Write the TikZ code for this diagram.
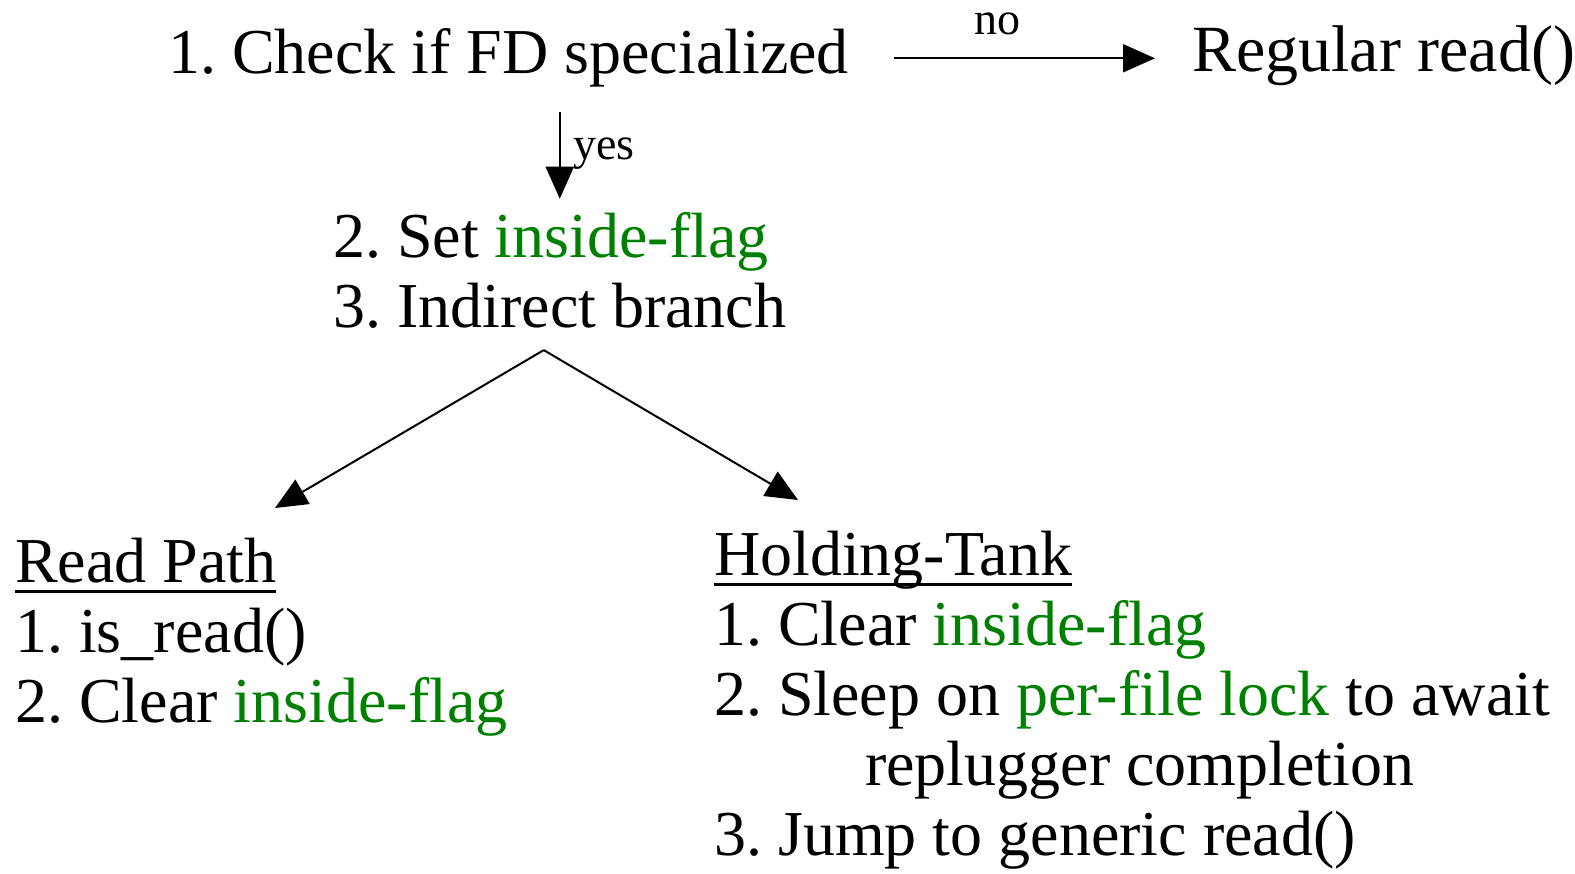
\documentclass[tikz,border=0pt]{standalone}
\usepackage{fontspec}
\setmainfont{Liberation Serif}
\usepackage{tikz}
\usetikzlibrary{arrows.meta,calc}
\definecolor{flaggreen}{RGB}{0,128,0}
\newcommand{\flag}[1]{\textcolor{flaggreen}{#1}}
% heading with a heavy rule a little below the baseline
\newcommand{\hd}[1]{\setbox0\hbox{#1}\rlap{\rule[-10.5pt]{\wd0}{3pt}}\box0}
\frenchspacing

\begin{document}
\begin{tikzpicture}[x=1pt,y=-1pt,>=Triangle]
\tikzset{
  txt/.style={inner sep=0pt,anchor=base west,font=\fontsize{64}{70}\selectfont},
  lst/.style={txt,align=left},
  lbl/.style={inner sep=0pt,anchor=base,font=\fontsize{46}{50}\selectfont},
  arr/.style={-{Triangle[length=32pt,width=28pt]},line width=2pt}
}
\useasboundingbox (0,0) rectangle (1575,874);

% top row: the test and the fall-through
\node[txt] (check) at (168,74) {1. Check if FD specialized};
\node[txt,font=\fontsize{66}{70}\selectfont] (regular) at (1192,72) {Regular read()};
\node[lbl] (no) at (997,35) {no};
\draw[arr,shorten <=45pt,shorten >=37pt] (check.east) -- (check.east -| regular.west);

% specialized path
\node[lst] (set) at (333,328) {2. Set \flag{inside-flag}\\3. Indirect branch};
\draw[arr,shorten <=24pt,shorten >=14pt] (check.south -| set.north) -- (set.north);
\node[lbl,anchor=base west] (yes) at (573,160) {yes};

% the two branch targets
\node[lst] (readpath) at (15,722) {\hd{Read Path}\\1. is\_read()\\2. Clear \flag{inside-flag}};
\node[lst] (tank) at (714,855) {\hd{Holding-Tank}\\1. Clear \flag{inside-flag}\\2. Sleep on \flag{per-file lock} to await\\\hspace*{151pt}replugger completion\\3. Jump to generic read()};

\coordinate (fork) at ([shift={(-16pt,-21pt)}]set.south);
\coordinate (readtip) at (275,508);
\coordinate (tanktip) at (798,500);
\draw[arr] (fork) -- (readtip);
\draw[arr] (fork) -- (tanktip);
\end{tikzpicture}
\end{document}
